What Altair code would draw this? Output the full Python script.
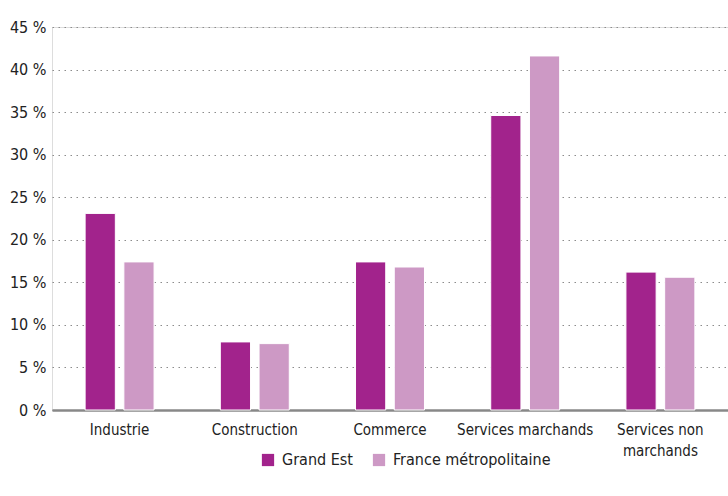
import altair as alt
import pandas as pd

# Part de l'emploi salarié par grand secteur (%)
secteurs = ["Industrie", "Construction", "Commerce", "Services marchands", "Services non marchands"]
grand_est = [23.1, 8.0, 17.4, 34.6, 16.2]
france_metro = [17.4, 7.8, 16.8, 41.6, 15.6]
zones = ["Grand Est", "France métropolitaine"]
couleurs = ["#a2238c", "#cd99c5"]
y_ticks = [0, 5, 10, 15, 20, 25, 30, 35, 40, 45]

rows = []
for s, g, f in zip(secteurs, grand_est, france_metro):
    rows.append({"secteur": s, "zone": zones[0], "part": g})
    rows.append({"secteur": s, "zone": zones[1], "part": f})
df = pd.DataFrame(rows)

FONT = "DejaVu Sans Condensed, Roboto, sans-serif"

chart = (
    alt.Chart(df)
    .mark_bar(stroke="white", strokeWidth=1)
    .encode(
        x=alt.X(
            "secteur:N",
            sort=secteurs,
            scale=alt.Scale(paddingInner=0.49, paddingOuter=0.245),
            axis=alt.Axis(
                title=None,
                labelAngle=0,
                ticks=False,
                domainColor="#888888",
                domainWidth=2.5,
                labelFont=FONT,
                labelFontSize=15,
                labelColor="#222222",
                labelPadding=12,
                labelLineHeight=21,
                labelExpr="datum.label == 'Services non marchands' ? ['Services non', 'marchands'] : datum.label",
            ),
        ),
        xOffset=alt.XOffset(
            "zone:N", sort=zones, scale=alt.Scale(paddingInner=0.22, paddingOuter=0)
        ),
        y=alt.Y(
            "part:Q",
            scale=alt.Scale(domain=[0, 45], nice=False),
            axis=alt.Axis(
                title=None,
                values=y_ticks,
                domain=False,
                ticks=False,
                grid=True,
                gridDash=[1.5, 4.5],
                gridColor="#8c8c8c",
                gridWidth=1.2,
                labelFont=FONT,
                labelFontSize=16,
                labelColor="#222222",
                labelPadding=6,
                labelExpr="datum.value + ' %'",
            ),
        ),
        color=alt.Color(
            "zone:N",
            sort=zones,
            scale=alt.Scale(domain=zones, range=couleurs),
            legend=alt.Legend(
                title=None,
                orient="none",
                direction="horizontal",
                legendX=208,
                legendY=425,
                symbolType="square",
                symbolSize=150,
                symbolStrokeWidth=0,
                labelFont=FONT,
                labelFontSize=16,
                labelColor="#222222",
                columnPadding=18,
                labelOffset=6,
            ),
        ),
    )
    .properties(
        width=676,
        height=383,
        autosize=alt.AutoSizeParams(type="none"),
        padding={"left": 52, "top": 27, "right": 0, "bottom": 86},
    )
    .configure_view(stroke=None)
    .configure(background="white")
)

chart.save("out.html", embed_options={"renderer": "svg", "actions": False})
